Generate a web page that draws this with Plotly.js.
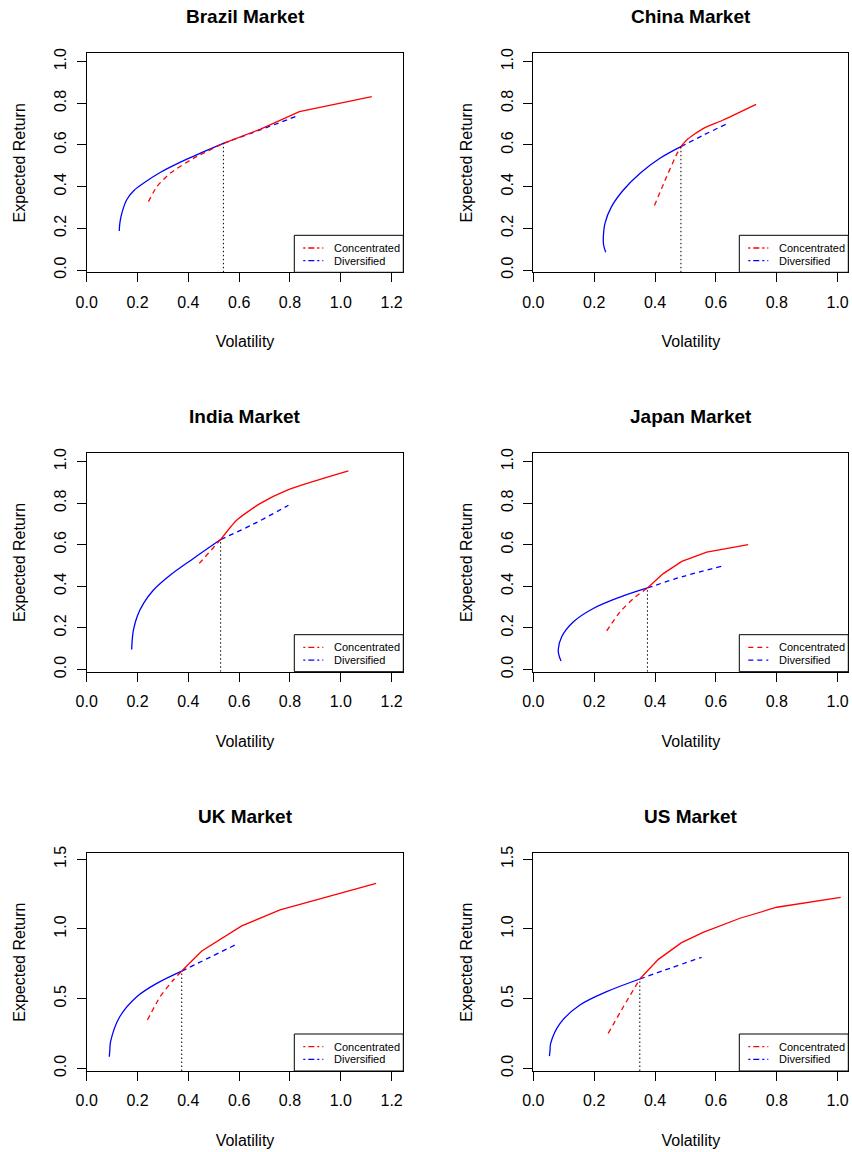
<!DOCTYPE html>
<html><head><meta charset="utf-8">
<script src="https://cdn.plot.ly/plotly-3.0.1.min.js"></script>
<style>body{margin:0;background:#fff}#chart{width:852px;height:1152px}</style>
</head><body><div id="chart"></div>
<script>
// ---------- data ----------
const marketNames = ["Brazil Market", "China Market", "India Market", "Japan Market", "UK Market", "US Market"];
const seriesNames = ["Concentrated", "Diversified"];

// Diversified (blue) frontiers
const brazilDivVol = [0.128, 0.131, 0.140, 0.157, 0.185, 0.223, 0.289, 0.394, 0.538, 0.682, 0.837];
const brazilDivRet = [0.187, 0.230, 0.280, 0.336, 0.380, 0.416, 0.468, 0.532, 0.608, 0.672, 0.743];
const chinaDivVol  = [0.238, 0.231, 0.230, 0.2355, 0.257, 0.296, 0.351, 0.416, 0.485, 0.560, 0.632];
const chinaDivRet  = [0.085, 0.120, 0.152, 0.224, 0.304, 0.384, 0.464, 0.536, 0.592, 0.648, 0.699];
const indiaDivVol  = [0.177, 0.179, 0.184, 0.200, 0.225, 0.262, 0.328, 0.420, 0.527, 0.656, 0.794];
const indiaDivRet  = [0.096, 0.140, 0.190, 0.260, 0.320, 0.381, 0.453, 0.534, 0.625, 0.699, 0.790];
const japanDivVol  = [0.091, 0.084, 0.082, 0.093, 0.131, 0.197, 0.285, 0.375, 0.493, 0.621];
const japanDivRet  = [0.040, 0.070, 0.096, 0.156, 0.228, 0.293, 0.348, 0.392, 0.448, 0.497];
const ukDivVol     = [0.089, 0.091, 0.094, 0.130, 0.197, 0.276, 0.374, 0.472, 0.584];
const ukDivRet     = [0.083, 0.130, 0.191, 0.370, 0.514, 0.610, 0.698, 0.785, 0.885];
const usDivVol     = [0.053, 0.055, 0.057, 0.088, 0.153, 0.241, 0.350, 0.449, 0.553];
const usDivRet     = [0.088, 0.130, 0.179, 0.323, 0.454, 0.550, 0.641, 0.718, 0.797];

// Concentrated (red) frontiers
const brazilConVol = [0.243, 0.276, 0.328, 0.420, 0.538, 0.682, 0.837, 1.122];
const brazilConRet = [0.328, 0.400, 0.464, 0.536, 0.608, 0.675, 0.760, 0.832];
const chinaConVol  = [0.398, 0.438, 0.471, 0.485, 0.504, 0.559, 0.624, 0.732];
const chinaConRet  = [0.309, 0.448, 0.555, 0.592, 0.624, 0.680, 0.720, 0.795];
const indiaConVol  = [0.443, 0.527, 0.590, 0.682, 0.787, 1.030];
const indiaConRet  = [0.510, 0.625, 0.718, 0.798, 0.862, 0.955];
const japanConVol  = [0.241, 0.285, 0.329, 0.375, 0.427, 0.488, 0.570, 0.706];
const japanConRet  = [0.185, 0.277, 0.341, 0.392, 0.461, 0.520, 0.564, 0.601];
const ukConVol     = [0.239, 0.289, 0.341, 0.374, 0.453, 0.610, 0.761, 1.139];
const ukConRet     = [0.347, 0.514, 0.634, 0.698, 0.842, 1.022, 1.137, 1.328];
const usConVol     = [0.246, 0.296, 0.350, 0.411, 0.487, 0.558, 0.679, 0.800, 1.010];
const usConRet     = [0.251, 0.442, 0.641, 0.782, 0.902, 0.976, 1.077, 1.156, 1.227];

// Crossing points (vertical dotted marker)
const crossVol = [0.538, 0.485, 0.527, 0.375, 0.374, 0.350];
const crossRet = [0.608, 0.592, 0.625, 0.392, 0.698, 0.641];

// Tick labels
const xTicksWide   = [0, 0.2, 0.4, 0.6, 0.8, 1.0, 1.2];
const xTicksNarrow = [0, 0.2, 0.4, 0.6, 0.8, 1.0];
const yTicksUnit   = [0, 0.2, 0.4, 0.6, 0.8, 1.0];
const yTicksWide   = [0, 0.5, 1.0, 1.5];

// ---------- layout / style constants ----------
const W = 852, H = 1152;
const cols = [[86.7, 403.3], [533.3, 848.3]];
const rows = [[53.3, 272.3], [453.3, 671.7], [853.3, 1071.0]];
const xRanges = [[0, 1.246], [0, 1.035]];
const yRanges = [[-0.011, 1.04], [-0.011, 1.04], [-0.019, 1.543]];
const legendDash = ["2px,3px,6px,3px", "2px,3px,6px,3px", "2px,3px,6px,3px", "5px,4px", "2px,3px,6px,3px", "2px,3px,6px,3px"];
const redSolidSmooth = [false, true, true, false, false, false];

const divVol = [brazilDivVol, chinaDivVol, indiaDivVol, japanDivVol, ukDivVol, usDivVol];
const divRet = [brazilDivRet, chinaDivRet, indiaDivRet, japanDivRet, ukDivRet, usDivRet];
const conVol = [brazilConVol, chinaConVol, indiaConVol, japanConVol, ukConVol, usConVol];
const conRet = [brazilConRet, chinaConRet, indiaConRet, japanConRet, ukConRet, usConRet];

const FONT = "Liberation Sans, Arial, Helvetica, sans-serif";
const RED = "#FF0000", BLUE = "#0000FF";
const DASH = "5px,4px";

const px = x => x / W;
const py = y => 1 - y / H;

function split(vol, ret, cr, below) {
  const xs = [], ys = [];
  for (let i = 0; i < vol.length; i++) {
    if (below ? ret[i] <= cr : ret[i] >= cr) { xs.push(vol[i]); ys.push(ret[i]); }
  }
  return [xs, ys];
}

const traces = [];
const layout = {
  width: W, height: H,
  margin: {l: 0, r: 0, t: 0, b: 0},
  paper_bgcolor: "#fff", plot_bgcolor: "#fff",
  showlegend: false,
  font: {family: FONT, color: "#000", size: 16},
  annotations: [], shapes: []
};

for (let k = 0; k < 6; k++) {
  const c = k % 2, r = Math.floor(k / 2);
  const sfx = k === 0 ? "" : String(k + 1);
  const xa = "x" + sfx, ya = "y" + sfx;
  const [L, R] = cols[c];
  const [T, B] = rows[r];
  const cr = crossRet[k], cv = crossVol[k];

  const [dsx, dsy] = split(divVol[k], divRet[k], cr, true);
  const [ddx, ddy] = split(divVol[k], divRet[k], cr, false);
  const [csx, csy] = split(conVol[k], conRet[k], cr, false);
  const [cdx, cdy] = split(conVol[k], conRet[k], cr, true);

  traces.push({x: dsx, y: dsy, xaxis: xa, yaxis: ya, mode: "lines", name: seriesNames[1],
    line: {color: BLUE, width: 1.3, shape: "spline", smoothing: 1}, hoverinfo: "skip"});
  traces.push({x: ddx, y: ddy, xaxis: xa, yaxis: ya, mode: "lines", name: seriesNames[1],
    line: {color: BLUE, width: 1.3, dash: DASH, shape: "spline", smoothing: 0.8}, hoverinfo: "skip"});
  traces.push({x: cdx, y: cdy, xaxis: xa, yaxis: ya, mode: "lines", name: seriesNames[0],
    line: {color: RED, width: 1.3, dash: DASH, shape: "spline", smoothing: 0.6}, hoverinfo: "skip"});
  traces.push({x: csx, y: csy, xaxis: xa, yaxis: ya, mode: "lines", name: seriesNames[0],
    line: redSolidSmooth[k] ? {color: RED, width: 1.3, shape: "spline", smoothing: 0.6}
                            : {color: RED, width: 1.3}, hoverinfo: "skip"});
  traces.push({x: [cv, cv], y: [yRanges[r][0], cr], xaxis: xa, yaxis: ya, mode: "lines",
    line: {color: "#000", width: 1, dash: "1.5px,2.5px"}, hoverinfo: "skip"});

  const xTicks = c === 0 ? xTicksWide : xTicksNarrow;
  const yTicks = r === 2 ? yTicksWide : yTicksUnit;

  layout["xaxis" + sfx] = {
    domain: [px(L), px(R)], anchor: ya, range: xRanges[c],
    tickmode: "array", tickvals: xTicks, ticktext: xTicks.map(v => v.toFixed(1)),
    ticks: "outside", ticklen: 9, tickwidth: 1, tickcolor: "#000",
    ticklabelstandoff: 6,
    showline: true, linecolor: "#000", linewidth: 1, mirror: true,
    showgrid: false, zeroline: false,
    tickfont: {family: FONT, size: 16, color: "#000"},
    automargin: false,
    title: {text: "Volatility", font: {family: FONT, size: 16, color: "#000"}, standoff: 26}
  };
  layout["yaxis" + sfx] = {
    domain: [py(B), py(T)], anchor: xa, range: yRanges[r],
    tickmode: "array", tickvals: yTicks, ticktext: yTicks.map(v => v.toFixed(1)),
    ticks: "outside", ticklen: 9, tickwidth: 1, tickcolor: "#000", tickangle: -90,
    ticklabelstandoff: 4,
    showline: true, linecolor: "#000", linewidth: 1, mirror: true,
    showgrid: false, zeroline: false,
    tickfont: {family: FONT, size: 16, color: "#000"},
    automargin: false,
    title: {text: "Expected Return", font: {family: FONT, size: 16, color: "#000"}, standoff: 22}
  };

  // subplot title
  layout.annotations.push({
    text: marketNames[k], xref: "paper", yref: "paper",
    x: px((L + R) / 2), y: py(T - 37), xanchor: "center", yanchor: "middle",
    showarrow: false, font: {family: FONT, size: 19, color: "#000", weight: 700}
  });

  // legend box (bottom-right)
  const lw = 109, lh = 37;
  const lx0 = R - lw, ly0 = B - lh;
  layout.shapes.push({type: "rect", xref: "paper", yref: "paper",
    x0: px(lx0), x1: px(R), y0: py(B), y1: py(ly0),
    line: {color: "#000", width: 1}, fillcolor: "#fff", layer: "above"});
  const colors = [RED, BLUE];
  for (let j = 0; j < 2; j++) {
    const yy = ly0 + 12.7 + j * 12.7;
    layout.shapes.push({type: "line", xref: "paper", yref: "paper",
      x0: px(lx0 + 9), x1: px(lx0 + 29), y0: py(yy), y1: py(yy),
      line: {color: colors[j], width: 1.3, dash: legendDash[k]}, layer: "above"});
    layout.annotations.push({
      text: seriesNames[j], xref: "paper", yref: "paper",
      x: px(lx0 + 38), y: py(yy), xanchor: "left", yanchor: "middle",
      showarrow: false, font: {family: FONT, size: 11, color: "#000"}
    });
  }
}

Plotly.newPlot("chart", traces, layout, {staticPlot: true, displayModeBar: false});
</script>
</body></html>
